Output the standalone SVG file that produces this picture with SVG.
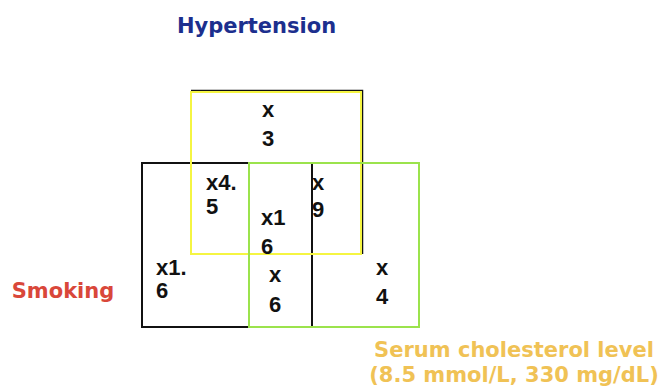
<svg xmlns="http://www.w3.org/2000/svg" width="672" height="387" viewBox="0 0 672 387">
<style>
.n{font-family:"Liberation Sans",Arial,sans-serif;font-weight:bold;font-size:22px;fill:#111}
.t{font-family:"DejaVu Sans",Verdana,sans-serif;font-weight:bold;font-size:21px}
.blk{fill:none;stroke:#111;stroke-width:2}
</style>
<rect width="672" height="387" fill="#fff"/>
<g id="labels">
<text class="t" x="256.5" y="33" text-anchor="middle" fill="#1c2f8e">Hypertension</text>
<text class="t" x="63" y="298" text-anchor="middle" fill="#d9473a">Smoking</text>
<text class="t" x="514" y="357" text-anchor="middle" fill="#f0c255">Serum cholesterol level</text>
<text class="t" x="514" y="382" text-anchor="middle" fill="#f0c255">(8.5 mmol/L, 330 mg/dL)</text>
</g>
<g id="connectors">
<rect id="smoking-box" class="blk" x="142" y="163" width="277" height="164"/>
<line class="blk" x1="312" y1="163" x2="312" y2="327"/>
<polyline points="191,90.5 362.5,90.5 362.5,254" fill="none" stroke="#111" stroke-width="1.5"/>
<rect id="hypertension-box" x="191" y="92" width="170" height="162" fill="none" stroke="#f5f542" stroke-width="2"/>
<rect id="cholesterol-box" x="249" y="163" width="170" height="164" fill="none" stroke="#9be34c" stroke-width="2"/>
</g>
<g id="cells">
<g id="c-h"><text class="n" x="262" y="117">x</text><text class="n" x="262" y="146">3</text></g>
<g id="c-hs"><text class="n" x="206" y="190">x4.</text><text class="n" x="206" y="214">5</text></g>
<g id="c-hsc"><text class="n" x="261" y="225">x1</text><text class="n" x="261" y="254">6</text></g>
<g id="c-hc"><text class="n" x="312" y="190">x</text><text class="n" x="312" y="217">9</text></g>
<g id="c-s"><text class="n" x="156" y="275">x1.</text><text class="n" x="156" y="298">6</text></g>
<g id="c-sc"><text class="n" x="269" y="282">x</text><text class="n" x="269" y="312">6</text></g>
<g id="c-c"><text class="n" x="376" y="275">x</text><text class="n" x="376" y="304">4</text></g>
</g>
</svg>
